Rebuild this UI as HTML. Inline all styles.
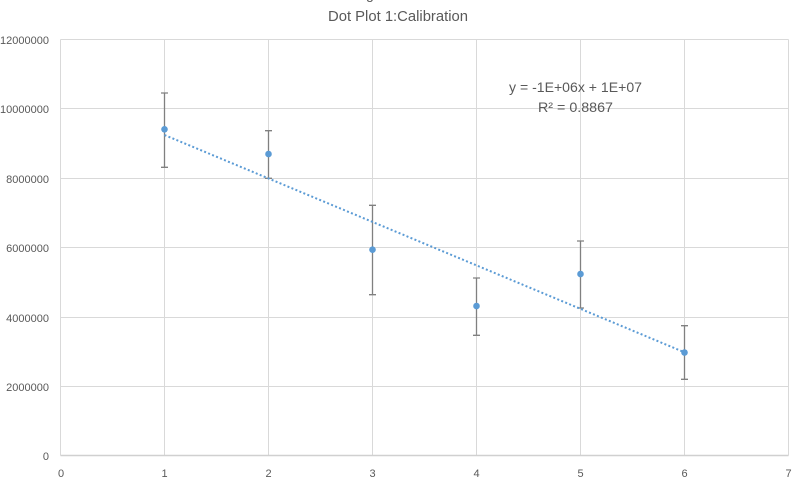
<!DOCTYPE html>
<html>
<head>
<meta charset="utf-8">
<style>
  html,body{margin:0;padding:0;background:#fff;}
  svg{display:block;}
  text{font-family:"Liberation Sans",sans-serif;fill:#595959;}
</style>
</head>
<body>
<svg width="800" height="481" viewBox="0 0 800 481" xmlns="http://www.w3.org/2000/svg">
  <rect width="800" height="481" fill="#fff"/>
  <!-- cut-off text above title -->
  <text x="366" y="-1" font-size="14">g</text>
  <!-- title -->
  <text x="328" y="21" font-size="15" textLength="140" lengthAdjust="spacingAndGlyphs">Dot Plot 1:Calibration</text>

  <!-- horizontal gridlines -->
  <g stroke="#d9d9d9" stroke-width="1">
    <line x1="60.5" y1="39.5" x2="788.5" y2="39.5"/>
    <line x1="60.5" y1="108.5" x2="788.5" y2="108.5"/>
    <line x1="60.5" y1="178.5" x2="788.5" y2="178.5"/>
    <line x1="60.5" y1="247.5" x2="788.5" y2="247.5"/>
    <line x1="60.5" y1="317.5" x2="788.5" y2="317.5"/>
    <line x1="60.5" y1="386.5" x2="788.5" y2="386.5"/>
    <!-- vertical gridlines -->
    <line x1="60.5" y1="39.5" x2="60.5" y2="455.5"/>
    <line x1="164.5" y1="39.5" x2="164.5" y2="455.5"/>
    <line x1="268.5" y1="39.5" x2="268.5" y2="455.5"/>
    <line x1="372.5" y1="39.5" x2="372.5" y2="455.5"/>
    <line x1="476.5" y1="39.5" x2="476.5" y2="455.5"/>
    <line x1="580.5" y1="39.5" x2="580.5" y2="455.5"/>
    <line x1="684.5" y1="39.5" x2="684.5" y2="455.5"/>
    <line x1="788.5" y1="39.5" x2="788.5" y2="455.5"/>
  </g>
  <line x1="60.5" y1="455.5" x2="788.5" y2="455.5" stroke="#d0d0d0" stroke-width="1.5"/>

  <!-- y tick labels -->
  <g font-size="11" text-anchor="end">
    <text x="49" y="44">12000000</text>
    <text x="49" y="113">10000000</text>
    <text x="49" y="183">8000000</text>
    <text x="49" y="252">6000000</text>
    <text x="49" y="322">4000000</text>
    <text x="49" y="391">2000000</text>
    <text x="49" y="460">0</text>
  </g>
  <!-- x tick labels -->
  <g font-size="11" text-anchor="middle">
    <text x="61" y="477">0</text>
    <text x="164.5" y="477">1</text>
    <text x="268.5" y="477">2</text>
    <text x="372.5" y="477">3</text>
    <text x="476.5" y="477">4</text>
    <text x="580.5" y="477">5</text>
    <text x="684.5" y="477">6</text>
    <text x="788.5" y="477">7</text>
  </g>

  <!-- error bars -->
  <g stroke="#808080" stroke-width="1.3" fill="none">
    <path d="M164.5 93 V167.3 M161 93 H168 M161 167.3 H168"/>
    <path d="M268.5 130.7 V178.3 M265 130.7 H272 M265 178.3 H272"/>
    <path d="M372.5 205.3 V294.7 M369 205.3 H376 M369 294.7 H376"/>
    <path d="M476.5 278 V335.3 M473 278 H480 M473 335.3 H480"/>
    <path d="M580.5 241 V308 M577 241 H584 M577 308 H584"/>
    <path d="M684.5 325.7 V379.3 M681 325.7 H688 M681 379.3 H688"/>
  </g>

  <!-- trendline -->
  <line x1="164.5" y1="135" x2="684.5" y2="352.3" stroke="#5b9bd5" stroke-width="2" stroke-dasharray="2 2.3"/>

  <!-- points -->
  <g fill="#5b9bd5">
    <circle cx="164.5" cy="129.3" r="3.3"/>
    <circle cx="268.5" cy="154" r="3.3"/>
    <circle cx="372.5" cy="249.7" r="3.3"/>
    <circle cx="476.5" cy="306" r="3.3"/>
    <circle cx="580.5" cy="274" r="3.3"/>
    <circle cx="684.5" cy="352.5" r="3.3"/>
  </g>

  <!-- equation -->
  <text x="509" y="92" font-size="14" textLength="133" lengthAdjust="spacingAndGlyphs">y = -1E+06x + 1E+07</text>
  <text x="538" y="112" font-size="14" textLength="75" lengthAdjust="spacingAndGlyphs">R² = 0.8867</text>
</svg>
</body>
</html>
